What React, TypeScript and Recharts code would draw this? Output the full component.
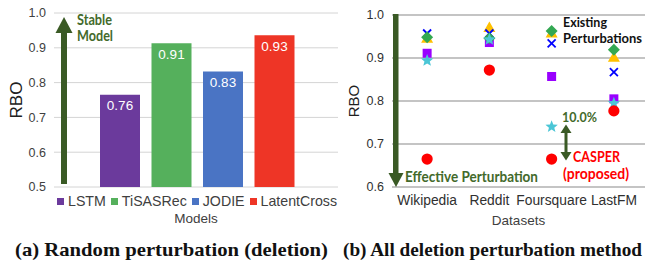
import React from 'react';
import {
  BarChart,
  Bar,
  XAxis,
  YAxis,
  CartesianGrid,
  Cell,
  LabelList,
  ComposedChart,
  Line,
} from 'recharts';

// ---------- (a) Random perturbation (deletion) ----------
const models = ['LSTM', 'TiSASRec', 'JODIE', 'LatentCross'];
const randomRbo = [0.765, 0.913, 0.832, 0.936];
const randomLabels = ['0.76', '0.91', '0.83', '0.93'];
const modelColors = ['#6b3a9c', '#55b05c', '#4a74c4', '#ee3526'];
const leftTicks = [0.5, 0.6, 0.7, 0.8, 0.9, 1.0];

// ---------- (b) All deletion perturbation methods ----------
const datasets = ['Wikipedia', 'Reddit', 'Foursquare', 'LastFM'];
const triangleRbo = [0.946, 0.971, 0.958, 0.902];
const crossRbo = [0.957, 0.957, 0.934, 0.867];
const squareRbo = [0.911, 0.936, 0.857, 0.805];
const diamondRbo = [0.948, 0.946, 0.963, 0.919];
const starRbo = [0.894, 0.943, 0.74, 0.795];
const casperRbo = [0.665, 0.872, 0.665, 0.777];
const rightTicks = [0.6, 0.7, 0.8, 0.9, 1.0];

const barData = models.map((m, i) => ({ name: m, value: randomRbo[i], label: randomLabels[i] }));
const scatterData = datasets.map((d, i) => ({
  name: d,
  triangle: triangleRbo[i],
  cross: crossRbo[i],
  square: squareRbo[i],
  diamond: diamondRbo[i],
  star: starRbo[i],
  casper: casperRbo[i],
}));

const SANS = '"Liberation Sans", Arial, sans-serif';
const BOLD = 'Lato, "Open Sans", sans-serif';
const SERIF = '"Liberation Serif", "DejaVu Serif", serif';
const GREEN = '#3a5a25';
const GREEN_TXT = '#436a2b';

const starPath = (cx: number, cy: number, R: number, r: number) => {
  let d = '';
  for (let k = 0; k < 10; k++) {
    const ang = -Math.PI / 2 + (k * Math.PI) / 5;
    const rad = k % 2 === 0 ? R : r;
    d += (k === 0 ? 'M' : 'L') + (cx + rad * Math.cos(ang)).toFixed(2) + ',' + (cy + rad * Math.sin(ang)).toFixed(2);
  }
  return d + 'Z';
};

const makeDot = (kind: string) => (props: any) => {
  const { cx, cy, index } = props;
  const key = `${kind}-${index}`;
  if (cx == null || cy == null || isNaN(cx) || isNaN(cy)) return <g key={key} />;
  switch (kind) {
    case 'triangle':
      return <polygon key={key} points={`${cx},${cy - 6} ${cx + 6},${cy + 4.5} ${cx - 6},${cy + 4.5}`} fill="#ffc000" />;
    case 'cross':
      return (
        <g key={key} stroke="#0000ff" strokeWidth={1.8}>
          <line x1={cx - 4} y1={cy - 4} x2={cx + 4} y2={cy + 4} />
          <line x1={cx - 4} y1={cy + 4} x2={cx + 4} y2={cy - 4} />
        </g>
      );
    case 'square':
      return <rect key={key} x={cx - 4.5} y={cy - 4.5} width={9} height={9} fill="#9900ff" />;
    case 'diamond':
      return <polygon key={key} points={`${cx},${cy - 6} ${cx + 6},${cy} ${cx},${cy + 6} ${cx - 6},${cy}`} fill="#33a852" />;
    case 'star':
      return <path key={key} d={starPath(cx, cy, 6.5, 2.8)} fill="#4bc6d6" />;
    default:
      return <circle key={key} cx={cx} cy={cy} r={5.6} fill="#ff0000" />;
  }
};

const seriesOrder = ['triangle', 'cross', 'square', 'diamond', 'star', 'casper'];

function LeftChart() {
  return (
    <div style={{ position: 'absolute', left: 0, top: 0 }}>
      <BarChart width={345} height={230} data={barData} margin={{ top: 13, right: 7, bottom: 0, left: 0 }}>
        <CartesianGrid vertical={false} stroke="#d4d4d4" strokeWidth={1} />
        <XAxis
          dataKey="name"
          tick={false}
          tickLine={false}
          axisLine={false}
          height={43}
          padding={{ left: 40, right: 38 }}
          label={{ value: 'Models', position: 'insideBottom', offset: 7, fill: '#404040', fontSize: 13.5, fontFamily: SANS }}
        />
        <YAxis
          width={54}
          domain={[0.5, 1.0]}
          ticks={leftTicks}
          tickFormatter={(v: number) => v.toFixed(1)}
          tickLine={false}
          axisLine={false}
          tick={{ fill: '#404040', fontSize: 12.5, fontFamily: SANS }}
          label={{ value: 'RBO', angle: -90, position: 'insideLeft', offset: 16, fill: '#202020', fontSize: 17, fontFamily: SANS, style: { textAnchor: 'middle' } }}
        />
        <Bar dataKey="value" barSize={40} isAnimationActive={false}>
          {barData.map((d, i) => (
            <Cell key={d.name} fill={modelColors[i]} />
          ))}
          <LabelList dataKey="label" position="insideTop" offset={6} fill="#ffffff" fontSize={13.5} fontFamily={SANS} />
        </Bar>
      </BarChart>
      <div
        style={{
          position: 'absolute',
          left: 57,
          top: 193,
          display: 'flex',
          alignItems: 'center',
          fontFamily: SANS,
          fontSize: 14.2,
          color: '#404040',
          whiteSpace: 'nowrap',
          lineHeight: '16px',
        }}
      >
        {models.map((m, i) => (
          <span key={m} style={{ display: 'flex', alignItems: 'center', marginRight: 5 }}>
            <span style={{ width: 7, height: 7, background: modelColors[i], display: 'inline-block', marginRight: 4 }} />
            {m}
          </span>
        ))}
      </div>
    </div>
  );
}

function RightChart() {
  return (
    <div style={{ position: 'absolute', left: 330, top: 0 }}>
      <ComposedChart width={315} height={230} data={scatterData} margin={{ top: 15, right: 0, bottom: 0, left: 0 }}>
        <CartesianGrid vertical={false} stroke="#8a8a8a" strokeWidth={1.2} />
        <XAxis
          dataKey="name"
          scale="band"
          tickLine={false}
          axisLine={false}
          height={43}
          padding={{ left: 4, right: 0 }}
          interval={0}
          tick={{ fill: '#303030', fontSize: 13.8, fontFamily: SANS }}
          label={{ value: 'Datasets', position: 'insideBottom', offset: 5, fill: '#404040', fontSize: 13.5, fontFamily: SANS }}
        />
        <YAxis
          width={62}
          domain={[0.6, 1.0]}
          ticks={rightTicks}
          tickFormatter={(v: number) => v.toFixed(1)}
          tickLine={false}
          axisLine={false}
          tick={{ fill: '#303030', fontSize: 12.5, fontFamily: SANS }}
          label={{ value: 'RBO', angle: -90, position: 'insideLeft', offset: 24, fill: '#202020', fontSize: 15, fontFamily: SANS, style: { textAnchor: 'middle' } }}
        />
        {seriesOrder.map((k) => (
          <Line
            key={k}
            dataKey={k}
            stroke="none"
            strokeWidth={0}
            dot={makeDot(k)}
            activeDot={false}
            isAnimationActive={false}
            legendType="none"
          />
        ))}
      </ComposedChart>
    </div>
  );
}

function Overlay() {
  const b = { fontFamily: BOLD, fontWeight: 700, lengthAdjust: 'spacingAndGlyphs' as const };
  return (
    <svg width={645} height={260} style={{ position: 'absolute', left: 0, top: 0, pointerEvents: 'none' }}>
      {/* Stable model arrow */}
      <rect x={61} y={32} width={6} height={152} fill={GREEN} />
      <polygon points="55.5,33 72.5,33 64,17" fill={GREEN} />
      <text x={77} y={25} fontSize={14.5} fill={GREEN_TXT} textLength={35} {...b}>Stable</text>
      <text x={77} y={40.5} fontSize={14.5} fill={GREEN_TXT} textLength={36} {...b}>Model</text>

      {/* Effective perturbation arrow */}
      <rect x={393} y={14} width={5.5} height={160} fill={GREEN} />
      <polygon points="388.5,173 403.5,173 396,187" fill={GREEN} />
      <text x={405} y={182} fontSize={14.5} fill={GREEN_TXT} textLength={133} {...b}>Effective Perturbation</text>

      <text x={563} y={27} fontSize={13.5} fill="#111" textLength={44} {...b}>Existing</text>
      <text x={563} y={42.5} fontSize={13} fill="#111" textLength={79} {...b}>Perturbations</text>

      {/* 10% double arrow */}
      <text x={562} y={122} fontSize={14} fill={GREEN_TXT} textLength={35} {...b}>10.0%</text>
      <rect x={564.5} y={132} width={3} height={21} fill={GREEN} />
      <polygon points="560.5,133 571.5,133 566,124.5" fill={GREEN} />
      <polygon points="560.5,152 571.5,152 566,160.5" fill={GREEN} />

      <text x={573} y={162} fontSize={14.5} fill="#ff0000" textLength={47} {...b}>CASPER</text>
      <text x={563} y={179} fontSize={14.5} fill="#ff0000" textLength={66} {...b}>(proposed)</text>

      {/* captions */}
      <text x={15} y={256} fontFamily={SERIF} fontWeight={700} fontSize={19} fill="#111" textLength={313} lengthAdjust="spacingAndGlyphs">(a) Random perturbation (deletion)</text>
      <text x={343} y={256} fontFamily={SERIF} fontWeight={700} fontSize={19} fill="#111" textLength={299} lengthAdjust="spacingAndGlyphs">(b) All deletion perturbation method</text>
    </svg>
  );
}

export default function App() {
  return (
    <div style={{ position: 'fixed', left: 0, top: 0, width: 645, height: 260, background: '#fff', overflow: 'hidden' }}>
      <LeftChart />
      <RightChart />
      <Overlay />
    </div>
  );
}
